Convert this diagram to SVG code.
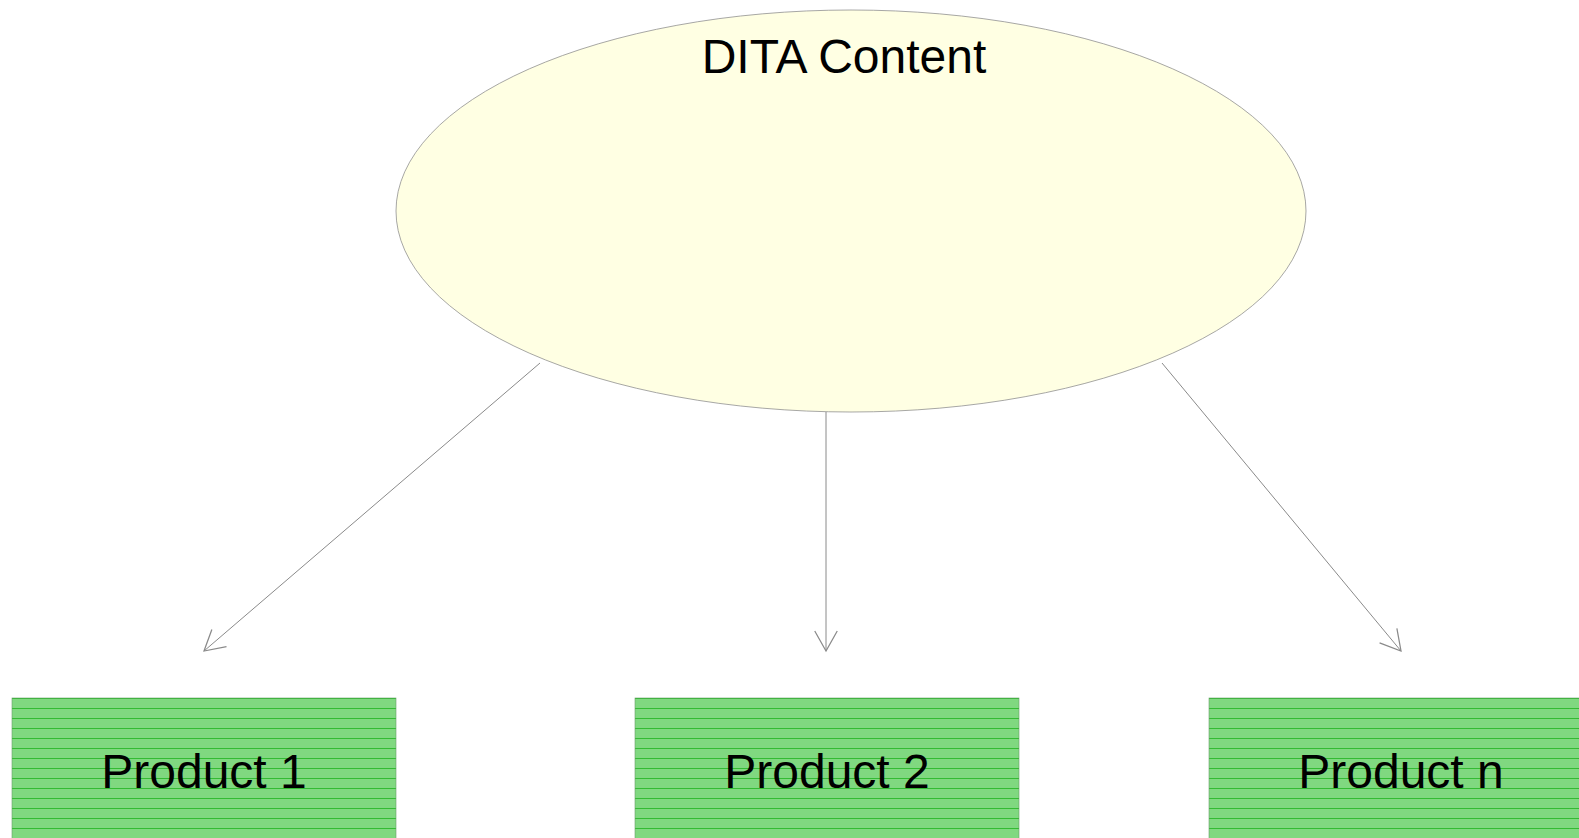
<svg xmlns="http://www.w3.org/2000/svg" width="1579" height="838" viewBox="0 0 1579 838">
<style>
.lbl{font-family:"Liberation Sans",Arial,sans-serif;font-size:48px;fill:#000;text-anchor:middle}
.box{fill:url(#hatch);stroke:#6a9f6a;stroke-width:0.6}
.conn{stroke:#8a8a8a;stroke-width:1;fill:none;marker-end:url(#arr)}
</style>
<defs>
<pattern id="hatch" patternUnits="userSpaceOnUse" x="0" y="698" width="10" height="10">
<rect width="10" height="10" fill="#80d880"/>
<line x1="0" y1="0.5" x2="10" y2="0.5" stroke="#33bb33" stroke-width="1"/>
</pattern>
<marker id="arr" markerUnits="userSpaceOnUse" markerWidth="30" markerHeight="30" viewBox="-20 -12 22 24" refX="0" refY="0" orient="auto" overflow="visible">
<path d="M-16,-9 L0,0 L-16,9" fill="none" stroke="#8a8a8a" stroke-width="1"/>
</marker>
</defs>
<rect width="1579" height="838" fill="#fff"/>
<g id="dita">
<ellipse cx="851" cy="211" rx="455" ry="201" fill="#ffffe3" stroke="#909090" stroke-width="0.8"/>
<text class="lbl" x="844" y="73">DITA Content</text>
</g>
<g id="connectors">
<line class="conn" x1="540" y1="363" x2="204" y2="651"/>
<line class="conn" x1="826" y1="412" x2="826" y2="651"/>
<line class="conn" x1="1162" y1="363" x2="1401" y2="651"/>
</g>
<g id="product1">
<rect class="box" x="12" y="698" width="384" height="160"/>
<text class="lbl" x="204" y="788">Product 1</text>
</g>
<g id="product2">
<rect class="box" x="635" y="698" width="384" height="160"/>
<text class="lbl" x="827" y="788">Product 2</text>
</g>
<g id="productn">
<rect class="box" x="1209" y="698" width="384" height="160"/>
<text class="lbl" x="1401" y="788">Product n</text>
</g>
</svg>
